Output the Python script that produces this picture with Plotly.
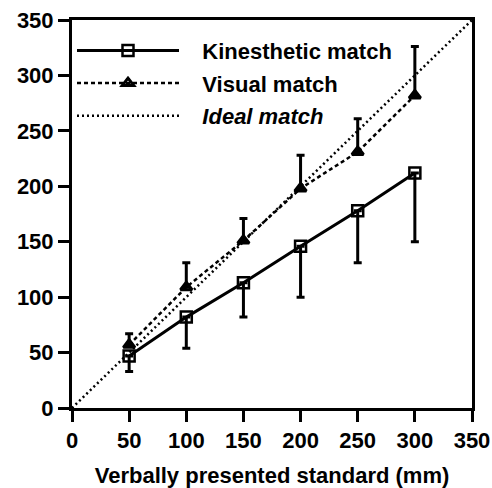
import plotly.graph_objects as go

standard = [50, 100, 150, 200, 250, 300]
kin_mean = [47, 82, 113, 146, 178, 212]
kin_lower = [33, 54, 82, 100, 131, 150]
vis_mean = [57, 109, 151, 198, 231, 282]
vis_upper = [67, 131, 171, 228, 261, 326]
ideal_x = [0, 350]
ideal_y = [0, 350]
ticks = [0, 50, 100, 150, 200, 250, 300, 350]

kin_minus = [m - l for m, l in zip(kin_mean, kin_lower)]
vis_plus = [u - m for m, u in zip(vis_mean, vis_upper)]

FONT = "Liberation Sans, Arial, sans-serif"
PAD = "\u00a0\u00a0\u00a0"

fig = go.Figure()
fig.add_trace(go.Scatter(
    x=standard, y=kin_mean, mode="lines+markers", name=PAD + "<b>Kinesthetic match</b>",
    legendgroup="k",
    line=dict(color="black", width=3),
    marker=dict(symbol="square-open", size=11, color="black", line=dict(width=2.5)),
    error_y=dict(type="data", symmetric=False, array=[0]*6, arrayminus=kin_minus,
                 color="black", thickness=3, width=4),
))
fig.add_trace(go.Scatter(
    x=standard, y=vis_mean, mode="lines+markers", name=PAD + "<b>Visual match</b>",
    legendgroup="v",
    line=dict(color="black", width=2.5, dash="4px,3px"),
    marker=dict(symbol="triangle-up-open", size=10, color="black", line=dict(width=3)),
    error_y=dict(type="data", symmetric=False, array=vis_plus, arrayminus=[0]*6,
                 color="black", thickness=3, width=4),
))
fig.add_trace(go.Scatter(
    x=ideal_x, y=ideal_y, mode="lines", name=PAD + "<b><i>Ideal match</i></b>",
    legendgroup="i",
    line=dict(color="black", width=2.5, dash="2px,3px"),
))

axis_common = dict(
    showgrid=False, zeroline=False, showline=True, linecolor="black", linewidth=3,
    mirror=True, ticks="outside", ticklen=11, tickwidth=3, tickcolor="black",
    tickvals=ticks, ticktext=[f"<b>{t}</b>" for t in ticks], range=[0, 350],
    tickfont=dict(family=FONT, size=22, color="black"),
    automargin=False, ticklabeloverflow="allow",
)
fig.update_xaxes(**axis_common,
                 title=dict(text="<b>Verbally presented standard (mm)</b>",
                            font=dict(family=FONT, size=22, color="black"),
                            standoff=16))
fig.update_yaxes(**axis_common)

fig.update_layout(
    width=492, height=488,
    margin=dict(l=72, r=20, t=20, b=80),
    plot_bgcolor="white", paper_bgcolor="white",
    showlegend=True,
    legend=dict(x=0.0, y=0.975, xanchor="left", yanchor="top",
                bgcolor="rgba(0,0,0,0)", itemwidth=102,
                font=dict(family=FONT, size=22, color="black"),
                traceorder="grouped", tracegroupgap=1),
)

fig.write_html("out.html",
               config={"displayModeBar": False},
               post_script="document.body.style.margin='0';document.body.style.overflow='hidden';")
